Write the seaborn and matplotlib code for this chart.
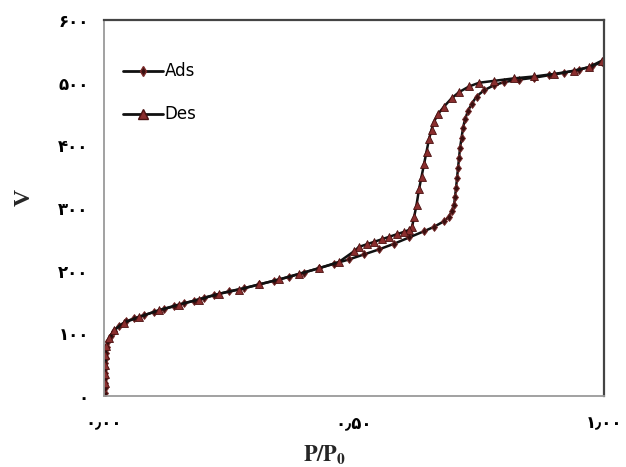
import matplotlib
matplotlib.use("Agg")
import matplotlib.pyplot as plt
import seaborn as sns
from matplotlib.lines import Line2D

ads_x = [0.002, 0.002, 0.002, 0.002, 0.003, 0.003, 0.003, 0.004, 0.004, 0.006, 0.009, 0.014,
         0.02, 0.03, 0.045, 0.06, 0.08, 0.10, 0.12, 0.14, 0.16, 0.18, 0.20, 0.22, 0.25, 0.28,
         0.31, 0.34, 0.37, 0.40, 0.43, 0.46, 0.49, 0.52, 0.55, 0.58, 0.61, 0.64, 0.66, 0.68,
         0.69, 0.695, 0.70, 0.702, 0.704, 0.706, 0.708, 0.710, 0.712, 0.715, 0.718, 0.722,
         0.728, 0.735, 0.745, 0.76, 0.78, 0.80, 0.83, 0.86, 0.89, 0.92, 0.95, 0.975, 0.995]
ads_y = [5, 12, 20, 28, 36, 44, 52, 60, 68, 78, 88, 96,
         104, 112, 119, 124, 129, 134, 139, 143, 148, 152, 157, 161, 167, 172,
         178, 184, 190, 197, 204, 211, 218, 226, 234, 243, 253, 263, 270, 279,
         286, 295, 305, 318, 332, 348, 364, 380, 396, 412, 428, 442,
         455, 466, 478, 488, 496, 501, 505, 508, 512, 516, 521, 526, 533]

des_x = [0.995, 0.97, 0.94, 0.90, 0.86, 0.82, 0.78, 0.75, 0.73, 0.71, 0.695, 0.68, 0.668,
         0.66, 0.655, 0.65, 0.645, 0.64, 0.635, 0.63, 0.625, 0.62, 0.616, 0.61, 0.60, 0.585,
         0.57, 0.555, 0.54, 0.525, 0.51, 0.50, 0.47, 0.43, 0.39, 0.35, 0.31, 0.27, 0.23,
         0.19, 0.15, 0.11, 0.07, 0.04, 0.02, 0.01, 0.005, 0.003, 0.003, 0.002, 0.002]
des_y = [535, 525, 519, 514, 510, 507, 503, 500, 494, 485, 475, 462, 450,
         438, 425, 410, 390, 370, 350, 330, 305, 285, 270, 265, 262, 258,
         254, 250, 246, 242, 238, 231, 214, 204, 195, 186, 178, 170, 163,
         154, 146, 137, 126, 117, 105, 92, 80, 65, 50, 35, 20]

y_ticks = [0, 100, 200, 300, 400, 500, 600]
y_labels = ["۰", "۱۰۰", "۲۰۰", "۳۰۰", "۴۰۰", "۵۰۰", "۶۰۰"]
x_ticks = [0.0, 0.5, 1.0]
x_labels = ["۰٫۰۰", "۰٫۵۰", "۱٫۰۰"]

sns.set_style("white")
plt.rcParams["font.family"] = ["DejaVu Sans"]
plt.rcParams["mathtext.fontset"] = "stix"
plt.rcParams["text.color"] = "black"
plt.rcParams["xtick.labelcolor"] = "black"
plt.rcParams["ytick.labelcolor"] = "black"

fig = plt.figure(figsize=(6.26, 4.67), dpi=100)
ax = fig.add_axes([0.166, 0.152, 0.799, 0.805])

line_col = "#111111"
ads_mfc = "#3a1010"
des_mfc = "#8a2e2e"

sns.lineplot(x=ads_x, y=ads_y, ax=ax, sort=False, estimator=None, color=line_col,
             linewidth=1.8, marker="d", markersize=4.5, markerfacecolor=ads_mfc,
             markeredgecolor="#7a2a2a", markeredgewidth=0.6)
sns.lineplot(x=des_x, y=des_y, ax=ax, sort=False, estimator=None, color=line_col,
             linewidth=1.8, marker="^", markersize=5.5, markerfacecolor=des_mfc,
             markeredgecolor="#4a1010", markeredgewidth=0.6)

ax.set_xlim(0, 1)
ax.set_ylim(0, 600)
ax.set_xticks(x_ticks)
ax.set_xticklabels(x_labels, fontsize=12, fontweight="bold")
ax.set_yticks(y_ticks)
ax.set_yticklabels(y_labels, fontsize=12, fontweight="bold")
ax.tick_params(axis="both", direction="out", length=4, width=1, color="#999999")
ax.tick_params(axis="y", pad=7)
ax.tick_params(axis="x", pad=9)

for s in ["left", "bottom"]:
    ax.spines[s].set_color("#9a9a9a")
    ax.spines[s].set_linewidth(1.3)
for s in ["top", "right"]:
    ax.spines[s].set_color("#444444")
    ax.spines[s].set_linewidth(1.6)

ax.set_xlabel(r"$\mathbf{P/P_0}$", fontsize=16)
ax.xaxis.set_label_coords(0.442, -0.127)
ax.set_ylabel("V", fontsize=17, fontweight="bold", family="Liberation Serif")
ax.yaxis.set_label_coords(-0.138, 0.527)

handles = [
    Line2D([], [], color=line_col, linewidth=2, marker="d", markersize=5,
           markerfacecolor=ads_mfc, markeredgecolor="#7a2a2a"),
    Line2D([], [], color=line_col, linewidth=2, marker="^", markersize=7,
           markerfacecolor=des_mfc, markeredgecolor="#4a1010"),
]
ax.legend(handles, ["Ads", "Des"], loc="upper left", bbox_to_anchor=(0.025, 0.905),
          frameon=False, handlelength=2.4, handletextpad=0.1,
          labelspacing=1.5, borderaxespad=0, labelcolor="black",
          prop={"family": ["Liberation Sans Narrow", "DejaVu Sans"], "size": 12})

fig.savefig("out.png", dpi=100)
